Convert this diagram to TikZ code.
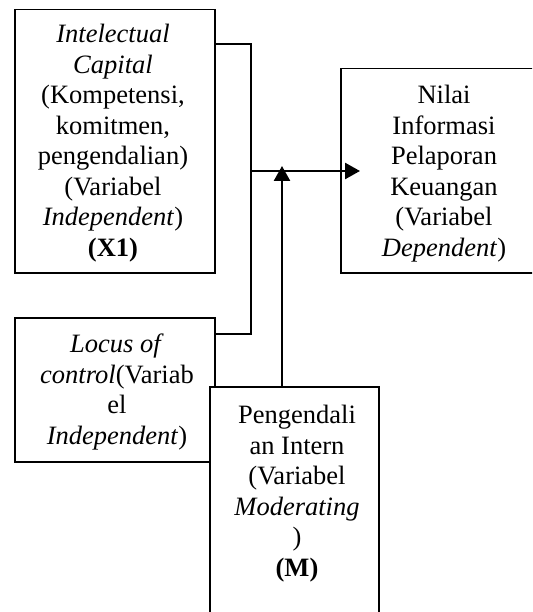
\documentclass[tikz,border=0pt]{standalone}
\usepackage{fontspec}
\setmainfont{Liberation Serif}
\usetikzlibrary{arrows.meta}
\tikzset{
  boxnode/.style={draw=black, line width=1.5pt, fill=white, inner sep=0pt, anchor=north west},
  txtnode/.style={align=center, inner sep=0pt, anchor=north, font=\fontsize{26.5}{30.5}\selectfont},
  conn/.style={line width=1.5pt},
  arr/.style={line width=2.5pt, -{Triangle[length=15pt,width=16pt]}}
}
\begin{document}
\begin{tikzpicture}[x=1pt,y=1pt]
\useasboundingbox (0,0) rectangle (532,-612);
\begin{scope}
\clip (0,0) rectangle (532,-612);
\fill[white] (0,0) rectangle (532,-612);
% boxes
\node[boxnode, minimum width=200pt, minimum height=263pt] (x1) at (14,-9) {};
\node[boxnode, minimum width=200pt, minimum height=204pt] (dep) at (340,-68) {};
\node[boxnode, minimum width=200pt, minimum height=144pt] (loc) at (14,-317) {};
% junction coordinates
\coordinate (jt) at (251,-44);
\coordinate (jb) at (251,-334);
\coordinate (jm) at (251,-171);
\coordinate (tip) at (360,-171);
\coordinate (mt) at (282,-166);
% elbow connector
\draw[conn] (x1.east |- jt) -- (jt) -- (jb) -- (loc.east |- jb);
% moderating box (drawn over locus box)
\node[boxnode, minimum width=169pt, minimum height=240pt] (mod) at (209,-386) {};
% texts
\node[txtnode] (x1t) at (113,-24) {\textit{Intelectual}\\\textit{Capital}\\(Kompetensi,\\komitmen,\\pengendalian)\\(Variabel\\\textit{Independent})\\\textbf{(X1)}};
\node[txtnode] (dept) at (444,-85) {Nilai\\Informasi\\Pelaporan\\Keuangan\\(Variabel\\\textit{Dependent})};
\node[txtnode] (loct) at (117,-334) {\textit{Locus of}\\\textit{control}(Variab\\el\\\textit{Independent})};
\node[txtnode] (modt) at (297,-405) {Pengendali\\an Intern\\(Variabel\\\textit{Moderating}\\)\\\textbf{(M)}};
% arrows
\draw[arr] (jm) -- (tip);
\draw[arr] (mod.north -| mt) -- (mt);
\end{scope}
\end{tikzpicture}
\end{document}
